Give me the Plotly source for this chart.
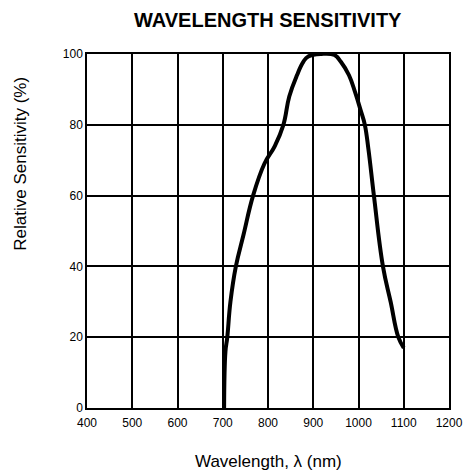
import plotly.graph_objects as go

wavelength_nm = [703, 706, 710, 717, 729, 746, 767, 792, 815, 834, 847, 864, 878,
                 889, 918, 947, 961, 979, 993, 1005, 1014, 1022, 1034, 1054, 1071, 1088, 1100]
sensitivity_pct = [0, 16, 20, 30, 40, 49, 60, 69, 74, 80, 88, 94, 97.8,
                   99.3, 100, 99.7, 97.8, 94, 89, 84, 80, 73, 60, 40, 30, 20, 17]
x_ticks = [400, 500, 600, 700, 800, 900, 1000, 1100, 1200]
y_ticks = [0, 20, 40, 60, 80, 100]

FONT = "Liberation Sans, Arial, sans-serif"

fig = go.Figure()
fig.add_trace(go.Scatter(
    x=wavelength_nm, y=sensitivity_pct, mode="lines",
    line=dict(color="black", width=4, shape="spline", smoothing=1.2),
    showlegend=False, hoverinfo="skip",
))

fig.update_layout(
    width=475, height=474,
    margin=dict(l=87, r=19, t=54, b=66),
    paper_bgcolor="white", plot_bgcolor="white",
    font=dict(family=FONT, color="black", size=12),
    xaxis=dict(range=[400, 1200], tickvals=x_ticks, showgrid=True, gridcolor="black",
               gridwidth=1.5, showline=True, linecolor="black", linewidth=1.5, mirror=True,
               zeroline=False, ticks="", ticklabelstandoff=3, tickfont=dict(size=12, family=FONT)),
    yaxis=dict(range=[0, 100], tickvals=y_ticks, showgrid=True, gridcolor="black",
               gridwidth=1.5, showline=True, linecolor="black", linewidth=1.5, mirror=True,
               zeroline=False, ticks="", tickfont=dict(size=12, family=FONT)),
    annotations=[
        dict(text="<b>WAVELENGTH SENSITIVITY</b>", xref="paper", yref="paper",
             x=0.5, y=1.097, xanchor="center", yanchor="middle", showarrow=False,
             font=dict(size=20, family=FONT)),
        dict(text="Wavelength, λ (nm)", xref="paper", yref="paper",
             x=0.5, y=-0.15, xanchor="center", yanchor="middle", showarrow=False,
             font=dict(size=17, family=FONT)),
        dict(text="Relative Sensitivity (%)", xref="paper", yref="paper",
             x=-0.186, y=0.689, xanchor="center", yanchor="middle", showarrow=False,
             textangle=-90, font=dict(size=17, family=FONT)),
    ],
)

fig.write_html("out.html", config={"displayModeBar": False},
               post_script="document.body.style.margin='0';document.body.style.padding='0';")
